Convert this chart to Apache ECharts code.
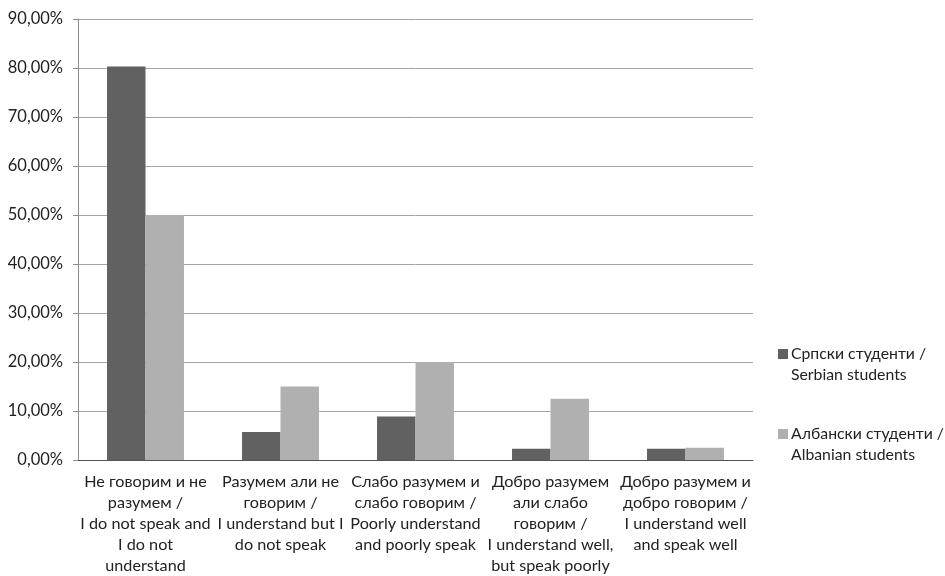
<!DOCTYPE html>
<html>
<head>
<meta charset="utf-8">
<script src="https://cdn.jsdelivr.net/npm/echarts@6/dist/echarts.min.js"></script>
<style>
  html, body { margin: 0; padding: 0; background: #fff; }
  #main { width: 945px; height: 576px; }
</style>
</head>
<body>
<div id="main"></div>
<script>
const categories = [
  'Не говорим и не\nразумем /\nI do not speak and\nI do not\nunderstand',
  'Разумем али не\nговорим /\nI understand but I\ndo not speak',
  'Слабо разумем и\nслабо говорим /\nPoorly understand\nand poorly speak',
  'Добро разумем\nали слабо\nговорим /\nI understand well,\nbut speak poorly',
  'Добро разумем и\nдобро говорим /\nI understand well\nand speak well'
]
const serbian = [80.3, 5.7, 8.9, 2.3, 2.3]
const albanian = [50, 15, 20, 12.5, 2.5]
const seriesNames = ['Српски студенти /\nSerbian students', 'Албански студенти /\nAlbanian students']

const font = 'Lato, "Open Sans", sans-serif'
// square on the first line of a two-line legend entry
const legendIcon = 'path://M0,0h0.01v0.01h-0.01z M0,6h10v10H0z M0,41.99h0.01v0.01h-0.01z'

const option = {
  animation: false,
  grid: { left: 78, right: 192, top: 19, bottom: 115 },
  legend: {
    orient: 'vertical',
    left: 778,
    top: 343,
    padding: 0,
    icon: legendIcon,
    itemWidth: 10,
    itemHeight: 42,
    itemGap: 38,
    textStyle: { fontFamily: font, fontSize: 15.8, color: '#222', lineHeight: 21, padding: [0, 0, 0, -2] },
    data: seriesNames
  },
  xAxis: {
    type: 'category',
    data: categories,
    axisLine: { lineStyle: { color: '#555' } },
    axisTick: { length: 5, lineStyle: { color: '#555' } },
    axisLabel: { interval: 0, fontFamily: font, fontSize: 16.2, color: '#222', lineHeight: 21, margin: 11 }
  },
  yAxis: {
    type: 'value',
    min: 0,
    max: 90,
    interval: 10,
    axisLine: { show: true, lineStyle: { color: '#8c8c8c' } },
    axisTick: { show: true, length: 5, lineStyle: { color: '#8c8c8c' } },
    splitLine: { lineStyle: { color: '#a6a6a6' } },
    axisLabel: {
      fontFamily: font, fontSize: 16.5, color: '#222', margin: 15,
      formatter: v => v.toFixed(2).replace('.', ',') + '%'
    }
  },
  series: [
    {
      name: seriesNames[0], type: 'bar', data: serbian,
      itemStyle: { color: '#616161' },
      barGap: '0%', barCategoryGap: '43%'
    },
    {
      name: seriesNames[1], type: 'bar', data: albanian,
      itemStyle: { color: '#b0b0b0' }
    }
  ]
}

echarts.init(document.getElementById('main')).setOption(option)
</script>
</body>
</html>
